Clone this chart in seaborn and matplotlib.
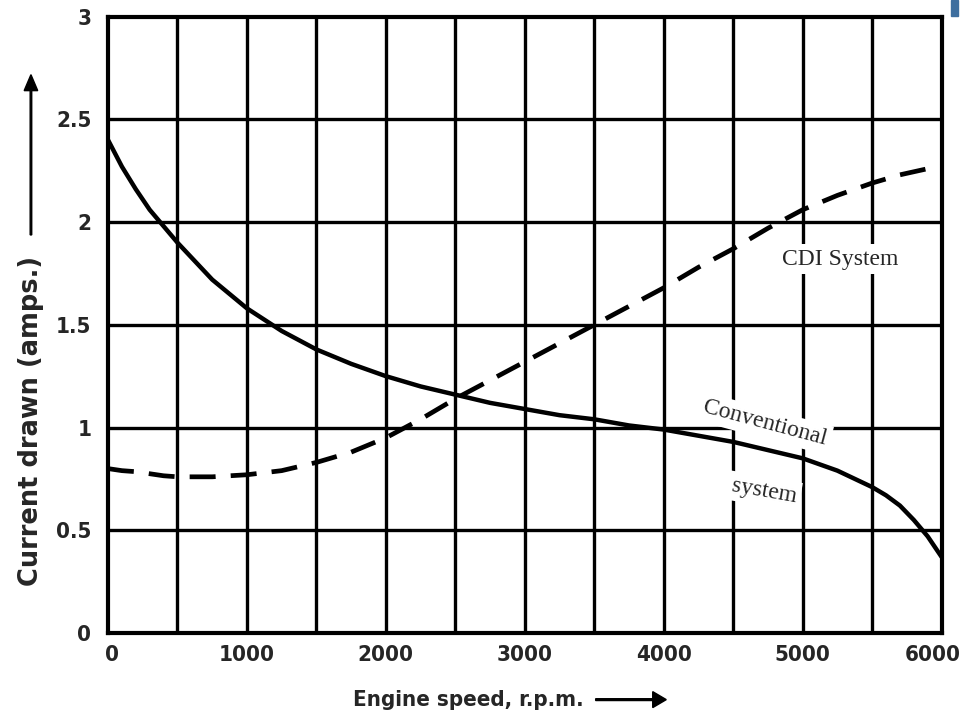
import matplotlib
matplotlib.use("Agg")
import matplotlib.pyplot as plt
import matplotlib.transforms as mtransforms
import seaborn as sns
import pandas as pd
from matplotlib.patches import Rectangle, FancyArrow

# Data
rpm = [0, 100, 200, 300, 400, 500, 750, 1000, 1250, 1500, 1750, 2000, 2250, 2500,
       2750, 3000, 3250, 3500, 3750, 4000, 4250, 4500, 4750, 5000, 5250, 5500,
       5600, 5700, 5800, 5900, 6000]
conventional = [2.40, 2.27, 2.16, 2.06, 1.98, 1.90, 1.72, 1.58, 1.47, 1.38, 1.31,
                1.25, 1.20, 1.16, 1.12, 1.09, 1.06, 1.04, 1.01, 0.99, 0.96, 0.93,
                0.89, 0.85, 0.79, 0.71, 0.67, 0.62, 0.55, 0.47, 0.37]
cdi = [0.80, 0.79, 0.785, 0.775, 0.765, 0.76, 0.76, 0.77, 0.79, 0.83, 0.88, 0.95,
       1.04, 1.14, 1.23, 1.32, 1.41, 1.50, 1.59, 1.68, 1.78, 1.87, 1.97, 2.06,
       2.13, 2.19, 2.21, 2.23, 2.245, 2.26, 2.27]

xticks = [0, 1000, 2000, 3000, 4000, 5000, 6000]
xticklabels = ["0", "1000", "2000", "3000", "4000", "5000", "6000"]
yticks = [0, 0.5, 1, 1.5, 2, 2.5, 3]
yticklabels = ["0", "0.5", "1", "1.5", "2", "2.5", "3"]

sns.set_style("white")
plt.rcParams['font.family'] = ['DejaVu Sans']

df = pd.DataFrame({"rpm": rpm, "Conventional system": conventional, "CDI System": cdi})

fig = plt.figure(figsize=(9.67, 7.25), dpi=100)
ax = fig.add_axes([0.1117, 0.127, 0.862, 0.85])

# grid
for gx in range(500, 6000, 500):
    ax.axvline(gx, color="black", lw=2.4, zorder=1)
for gy in [0.5, 1.0, 1.5, 2.0, 2.5]:
    ax.axhline(gy, color="black", lw=2.4, zorder=1)

sns.lineplot(data=df, x="rpm", y="Conventional system", ax=ax, color="black",
             lw=3.2, zorder=3, legend=False)
sns.lineplot(data=df, x="rpm", y="CDI System", ax=ax, color="black",
             lw=3.4, zorder=3, legend=False)
ax.lines[-1].set_linestyle((0, (5.5, 3.2)))

ax.set_xlim(0, 6000)
ax.set_ylim(0, 3)
ax.set_xticks(xticks)
ax.set_xticklabels(xticklabels)
ax.set_yticks(yticks)
ax.set_yticklabels(yticklabels)
ax.tick_params(axis="x", length=0, labelsize=16, pad=9)
ax.tick_params(axis="y", length=0, labelsize=16, pad=12)
for lab in ax.get_xticklabels() + ax.get_yticklabels():
    lab.set_fontweight("bold")
    lab.set_fontstretch("condensed")
# first and last x labels sit slightly inside the frame, as in the reference
xlabs = ax.get_xticklabels()
xlabs[0].set_transform(xlabs[0].get_transform() +
                       mtransforms.ScaledTranslation(4 / 100, 0, fig.dpi_scale_trans))
xlabs[-1].set_transform(xlabs[-1].get_transform() +
                        mtransforms.ScaledTranslation(-9 / 100, 0, fig.dpi_scale_trans))
for s in ax.spines.values():
    s.set_color("black")
    s.set_linewidth(3)

ax.set_xlabel("")
ax.set_ylabel("")

# curve labels
box = dict(facecolor="white", edgecolor="none", pad=3)
ax.text(5270, 1.82, "CDI System", family="Liberation Serif", fontsize=17,
        ha="center", va="center", bbox=box, zorder=2)
ax.text(4727, 1.02, "Conventional", family="Liberation Serif", fontsize=17,
        ha="center", va="center", rotation=-15, bbox=box, zorder=2)
ax.text(4720, 0.69, "system", family="Liberation Serif", fontsize=17,
        ha="center", va="center", rotation=-10, bbox=box, zorder=2)

# axis titles with arrows
fig.text(0.032, 0.42, "Current drawn (amps.)", rotation=90, ha="center",
         va="center", fontsize=18.5, fontweight="semibold")
fig.patches.append(FancyArrow(
    0.032, 0.676, 0, 0.221, width=0.0016, head_width=0.014, head_length=0.022,
    length_includes_head=True, color="black", transform=fig.transFigure, figure=fig))
fig.text(0.484, 0.035, "Engine speed, r.p.m.", ha="center", va="center",
         fontsize=16, fontweight="bold", fontstretch="condensed")
fig.patches.append(FancyArrow(
    0.616, 0.035, 0.073, 0, width=0.0025, head_width=0.022, head_length=0.014,
    length_includes_head=True, color="black", transform=fig.transFigure, figure=fig))

# small blue mark in the top-right corner
fig.patches.append(Rectangle((0.983, 0.978), 0.008, 0.022, transform=fig.transFigure,
                             color="#3d6e9e", figure=fig))

fig.savefig("out.png", dpi=100)
